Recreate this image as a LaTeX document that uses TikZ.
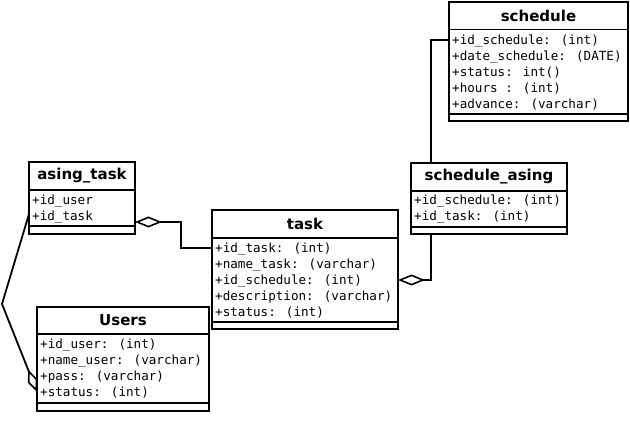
\documentclass[tikz,border=0pt]{standalone}
\usepackage{fontspec}
\usetikzlibrary{arrows.meta}
\newfontfamily\ertitlefont{DejaVu Sans}
\newfontfamily\ermonofont{DejaVu Sans Mono}
\tikzset{
  tablebox/.style={draw, line width=1.8pt, outer sep=0pt, inner sep=0pt},
  sepline/.style={line width=1.8pt},
  titletext/.style={font=\ertitlefont\fontsize{15}{18}\selectfont\bfseries, inner sep=0pt},
  rowtext/.style={font=\ermonofont\fontsize{12.6}{15}\selectfont, anchor=base west, inner sep=0pt},
  conn/.style={line width=1.8pt},
  agg/.style={-{Diamond[open, length=27pt, width=11pt, line width=1.6pt]}},
}
\newcommand{\ertable}[8]{%
  \node[tablebox, minimum width={#4-#2}, minimum height={#5-#3}] (#1) at ({(#2+#4)/2},{(#3+#5)/2}) {};
  \draw[sepline] (#1.west |- 0,#6) -- (#1.east |- 0,#6);
  \draw[sepline] (#1.west |- 0,#7) -- (#1.east |- 0,#7);
  \node[titletext] (#1-title) at ({(#2+#4)/2},{(#3+#6)/2}) {#8};
}
\begin{document}
\begin{tikzpicture}[x=1pt, y=-1pt]
\useasboundingbox (0,0) rectangle (630,425);

% schedule
\ertable{sched}{449}{2}{628}{121}{29.5}{114}{schedule}
\node[rowtext] (sched-r1) at (452,44.5) {+id\_schedule: (int)};
\node[rowtext] (sched-r2) at (452,60.5) {+date\_schedule: (DATE)};
\node[rowtext] (sched-r3) at (452,76.5) {+status: int()};
\node[rowtext] (sched-r4) at (452,92.5) {+hours : (int)};
\node[rowtext] (sched-r5) at (452,108.5) {+advance: (varchar)};

% schedule_asing
\ertable{sa}{411}{163}{567}{234}{191}{227}{schedule\_asing}
\node[rowtext] (sa-r1) at (414,204.5) {+id\_schedule: (int)};
\node[rowtext] (sa-r2) at (414,220.5) {+id\_task: (int)};

% task
\ertable{task}{212}{210}{398}{329}{238}{322}{task}
\node[rowtext] (task-r1) at (215,252.5) {+id\_task: (int)};
\node[rowtext] (task-r2) at (215,268.5) {+name\_task: (varchar)};
\node[rowtext] (task-r3) at (215,284.5) {+id\_schedule: (int)};
\node[rowtext] (task-r4) at (215,300.5) {+description: (varchar)};
\node[rowtext] (task-r5) at (215,316.5) {+status: (int)};

% asing_task
\ertable{at}{29}{162}{135}{234}{190}{226}{asing\_task}
\node[rowtext] (at-r1) at (32,204.5) {+id\_user};
\node[rowtext] (at-r2) at (32,220.5) {+id\_task};

% Users
\ertable{us}{37}{307}{209}{411}{334}{403}{Users}
\node[rowtext] (us-r1) at (40,348.5) {+id\_user: (int)};
\node[rowtext] (us-r2) at (40,364.5) {+name\_user: (varchar)};
\node[rowtext] (us-r3) at (40,380.5) {+pass: (varchar)};
\node[rowtext] (us-r4) at (40,396.5) {+status: (int)};

% connectors
\coordinate (bendA) at (431,40);
\draw[conn] (sa.north -| bendA) -- (bendA) -- (sched.west |- bendA);

\coordinate (bendB) at (431,280);
\draw[conn, agg] (sa.south -| bendB) -- (bendB) -- (task.east |- bendB);

\coordinate (bendC) at (181,248);
\coordinate (bendD) at (181,222);
\draw[conn, agg] (task.west |- bendC) -- (bendC) -- (bendD) -- (at.east |- bendD);

\coordinate (bendE) at (2,304);
\coordinate (startE) at (29,214);
\coordinate (endE) at (37,392);
\draw[conn, -{Diamond[open, length=24pt, width=10pt, line width=1.6pt]}] (startE) -- (bendE) -- (endE);
\end{tikzpicture}
\end{document}
